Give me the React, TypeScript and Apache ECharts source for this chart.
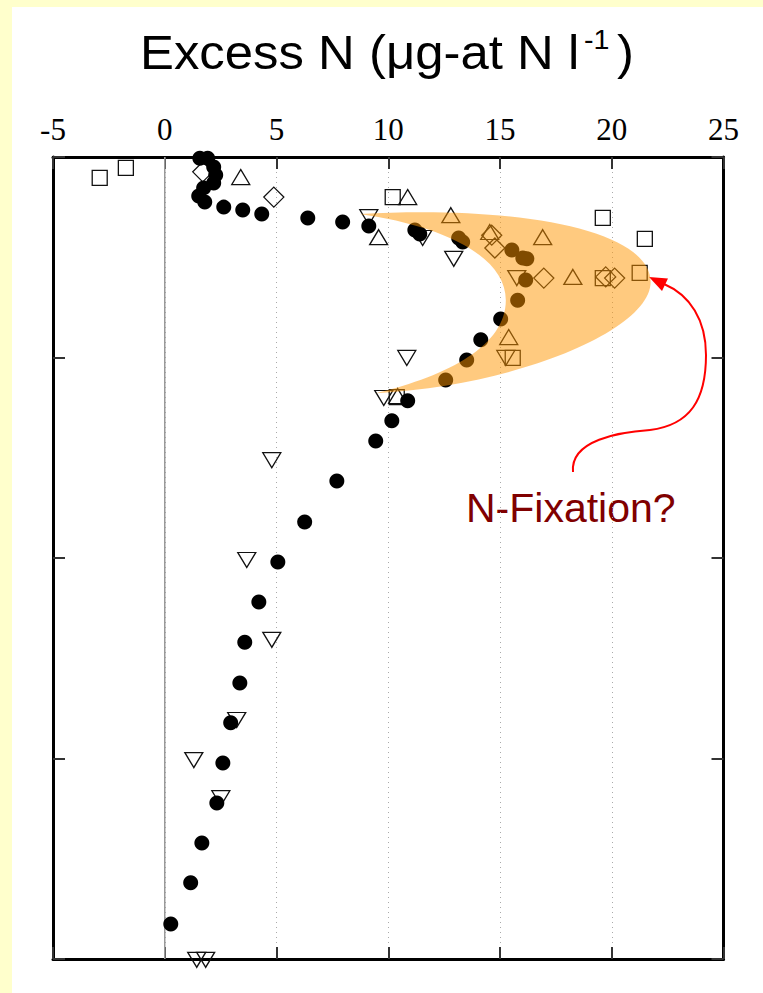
import React, { useEffect, useRef } from "react";
import * as echarts from "echarts";

// Excess N profiles (value, depth) for each station symbol
const filledCircles: number[][] = [
  [1.57, 0.3], [1.92, 0.3], [2.19, 2.5], [2.28, 4.5], [2.19, 6.5], [1.74, 7.7],
  [1.52, 9.7], [1.79, 11.2], [2.64, 12.5], [3.49, 13.2], [4.34, 14.2], [6.4, 15.2],
  [7.96, 16.2], [9.13, 17.2], [11.19, 18.2], [11.41, 19.2], [13.15, 20.2], [13.33, 21.2],
  [15.53, 23.2], [16.02, 25.2], [16.2, 25.4], [16.15, 30.7], [15.79, 35.7], [15.03, 40.4],
  [14.14, 45.6], [13.51, 50.6], [12.57, 55.6], [10.87, 60.8], [10.16, 65.8], [9.44, 70.8],
  [7.7, 80.8], [6.26, 91.0], [5.06, 101.0], [4.21, 111.0], [3.58, 121.0], [3.36, 131.2],
  [2.95, 141.1], [2.6, 151.1], [2.33, 161.1], [1.66, 171.1], [1.16, 181.0], [0.27, 191.3],
];
const openSquares: number[][] = [
  [-2.91, 5.2], [-1.74, 2.7], [10.2, 10.0], [19.6, 15.2], [21.48, 20.4],
  [21.25, 28.9], [19.6, 30.2], [15.57, 50.1], [10.38, 59.9],
];
const openDiamonds: number[][] = [
  [1.7, 3.7], [4.88, 10.0], [14.63, 19.5], [14.77, 22.7], [16.96, 30.2],
  [19.73, 29.9], [20.13, 30.2],
];
const upTriangles: number[][] = [
  [3.4, 5.0], [10.87, 10.0], [12.8, 14.5], [9.57, 20.0], [14.54, 18.7],
  [16.91, 20.0], [18.26, 29.9], [15.39, 44.9], [10.42, 59.6],
];
const downTriangles: number[][] = [
  [9.13, 15.0], [11.54, 20.2], [12.93, 25.4], [15.75, 30.2], [10.83, 50.1],
  [15.26, 50.1], [9.8, 60.1], [4.79, 75.6], [3.67, 100.5], [4.79, 120.4],
  [3.22, 140.4], [1.3, 150.4], [2.51, 159.9], [1.43, 200.2], [1.83, 200.2],
];

// Crescent outline (value, depth): start point then cubic segments [c1, c2, end]
const crescentStart = [8.72, 14.2];
const crescentSegments: number[][][] = [
  [[15.88, 12.0], [21.74, 18.2], [21.74, 31.2]],
  [[21.74, 43.1], [15.88, 56.9], [9.44, 58.9]],
  [[12.75, 54.4], [15.26, 46.9], [15.26, 35.7]],
  [[15.26, 24.4], [12.3, 17.0], [8.72, 14.2]],
];

const xTicks = { min: -5, max: 25, interval: 5 };
const depthTicks = { min: 0, max: 200, interval: 50 };

const frameColor = "#000";
const tickColor = "#333";
const sans = "'Liberation Sans', Arial, sans-serif";

export default function App() {
  const ref = useRef<HTMLDivElement>(null);

  useEffect(() => {
    if (!ref.current) return;
    const chart = echarts.init(ref.current, undefined, { renderer: "svg" });

    const openStyle = {
      color: "rgba(0,0,0,0)",
      borderColor: "#111",
      borderWidth: 1.3,
      opacity: 1,
    };

    const edgeAxis = (position: string, showLabel: boolean) => ({
      type: "value",
      position,
      min: xTicks.min,
      max: xTicks.max,
      interval: xTicks.interval,
      axisLine: { show: true, onZero: false, lineStyle: { color: frameColor, width: 3 } },
      axisTick: { show: true, inside: true, length: 12, lineStyle: { color: tickColor, width: 2 } },
      axisLabel: showLabel
        ? {
            show: true,
            margin: 12,
            color: "#000",
            fontFamily: "'Liberation Serif', 'Times New Roman', serif",
            fontSize: 31,
          }
        : { show: false },
      splitLine: showLabel
        ? { show: true, lineStyle: { color: "#aaa", type: [1, 4], width: 1 } }
        : { show: false },
    });

    const depthAxis = (position: string) => ({
      type: "value",
      position,
      inverse: true,
      min: depthTicks.min,
      max: depthTicks.max,
      interval: depthTicks.interval,
      axisLine: { show: true, onZero: false, lineStyle: { color: frameColor, width: 3 } },
      axisTick: { show: true, inside: true, length: 12, lineStyle: { color: tickColor, width: 2 } },
      axisLabel: { show: false },
      splitLine: { show: false },
    });

    chart.setOption({
      animation: false,
      backgroundColor: "#fff",
      grid: { left: 53, top: 157, width: 670.5, height: 802, containLabel: false },
      xAxis: [edgeAxis("top", true), edgeAxis("bottom", false)],
      yAxis: [depthAxis("left"), depthAxis("right")],
      graphic: [
        { type: "rect", shape: { x: 0, y: 0, width: 763, height: 7 }, style: { fill: "#FFFFCC" }, silent: true },
        { type: "rect", shape: { x: 0, y: 0, width: 12, height: 993 }, style: { fill: "#FFFFCC" }, silent: true },
        {
          type: "text",
          x: 140,
          y: 52,
          scaleX: 1.06,
          style: {
            text: "Excess N (\u03BCg-at N l",
            fill: "#000",
            fontFamily: sans,
            fontSize: 48,
            align: "left",
            verticalAlign: "middle",
          },
        },
        {
          type: "text",
          x: 584,
          y: 40,
          scaleX: 1.06,
          style: {
            text: "-1",
            fill: "#000",
            fontFamily: sans,
            fontSize: 27,
            align: "left",
            verticalAlign: "middle",
          },
        },
        {
          type: "text",
          x: 617,
          y: 52,
          scaleX: 1.06,
          style: {
            text: ")",
            fill: "#000",
            fontFamily: sans,
            fontSize: 48,
            align: "left",
            verticalAlign: "middle",
          },
        },
        {
          type: "text",
          x: 466,
          y: 508,
          style: {
            text: "N-Fixation?",
            fill: "#800000",
            fontFamily: sans,
            fontSize: 41,
            align: "left",
            verticalAlign: "middle",
          },
        },
        {
          type: "group",
          z: 10,
          children: [
            {
              type: "bezierCurve",
              shape: { x1: 573, y1: 472, cpx1: 570, cpy1: 440, cpx2: 620, cpy2: 432, x2: 650, y2: 430 },
              style: { stroke: "#FF0000", lineWidth: 2, fill: "none" },
            },
            {
              type: "bezierCurve",
              shape: { x1: 650, y1: 430, cpx1: 690, cpy1: 425, cpx2: 706, cpy2: 400, x2: 706, y2: 355 },
              style: { stroke: "#FF0000", lineWidth: 2, fill: "none" },
            },
            {
              type: "bezierCurve",
              shape: { x1: 706, y1: 355, cpx1: 706, cpy1: 320, cpx2: 690, cpy2: 295, x2: 664, y2: 284 },
              style: { stroke: "#FF0000", lineWidth: 2, fill: "none" },
            },
            {
              type: "polygon",
              shape: { points: [[649, 277], [668, 278.5], [662, 291]] },
              style: { fill: "#FF0000" },
            },
          ],
        },
      ],
      series: [
        {
          // zero reference line
          type: "line",
          xAxisIndex: 0,
          yAxisIndex: 0,
          data: [[0, depthTicks.min], [0, depthTicks.max]],
          symbol: "none",
          lineStyle: { color: "#999", width: 1.5 },
          z: 1,
          silent: true,
        },
        {
          type: "scatter",
          data: openSquares,
          symbol: "rect",
          symbolSize: 15,
          itemStyle: openStyle,
          clip: false,
          z: 2,
        },
        {
          type: "scatter",
          data: openDiamonds,
          symbol: "diamond",
          symbolSize: 20,
          itemStyle: openStyle,
          clip: false,
          z: 2,
        },
        {
          type: "scatter",
          data: upTriangles,
          symbol: "triangle",
          symbolSize: [18, 15],
          itemStyle: openStyle,
          clip: false,
          z: 2,
        },
        {
          type: "scatter",
          data: downTriangles,
          symbol: "triangle",
          symbolRotate: 180,
          symbolSize: [18, 15],
          itemStyle: openStyle,
          clip: false,
          z: 2,
        },
        {
          type: "scatter",
          data: filledCircles,
          symbol: "circle",
          symbolSize: 15,
          itemStyle: { color: "#000", opacity: 1 },
          clip: false,
          z: 3,
        },
        {
          // shaded crescent over the mid-depth maximum
          type: "custom",
          data: [[crescentStart[0], crescentStart[1]]],
          clip: false,
          z: 5,
          silent: true,
          renderItem: (params: any, api: any) => {
            const p = (v: number[]) => api.coord(v);
            const s = p(crescentStart);
            let d = `M${s[0]},${s[1]}`;
            for (const seg of crescentSegments) {
              const [c1, c2, e] = seg.map(p);
              d += ` C${c1[0]},${c1[1]} ${c2[0]},${c2[1]} ${e[0]},${e[1]}`;
            }
            d += " Z";
            return {
              type: "path",
              shape: { pathData: d },
              style: { fill: "rgba(255,150,0,0.5)", stroke: "none" },
            };
          },
        },
      ],
    });

    return () => chart.dispose();
  }, []);

  return (
    <div
      ref={ref}
      style={{ position: "fixed", left: 0, top: 0, width: 763, height: 993 }}
    />
  );
}
